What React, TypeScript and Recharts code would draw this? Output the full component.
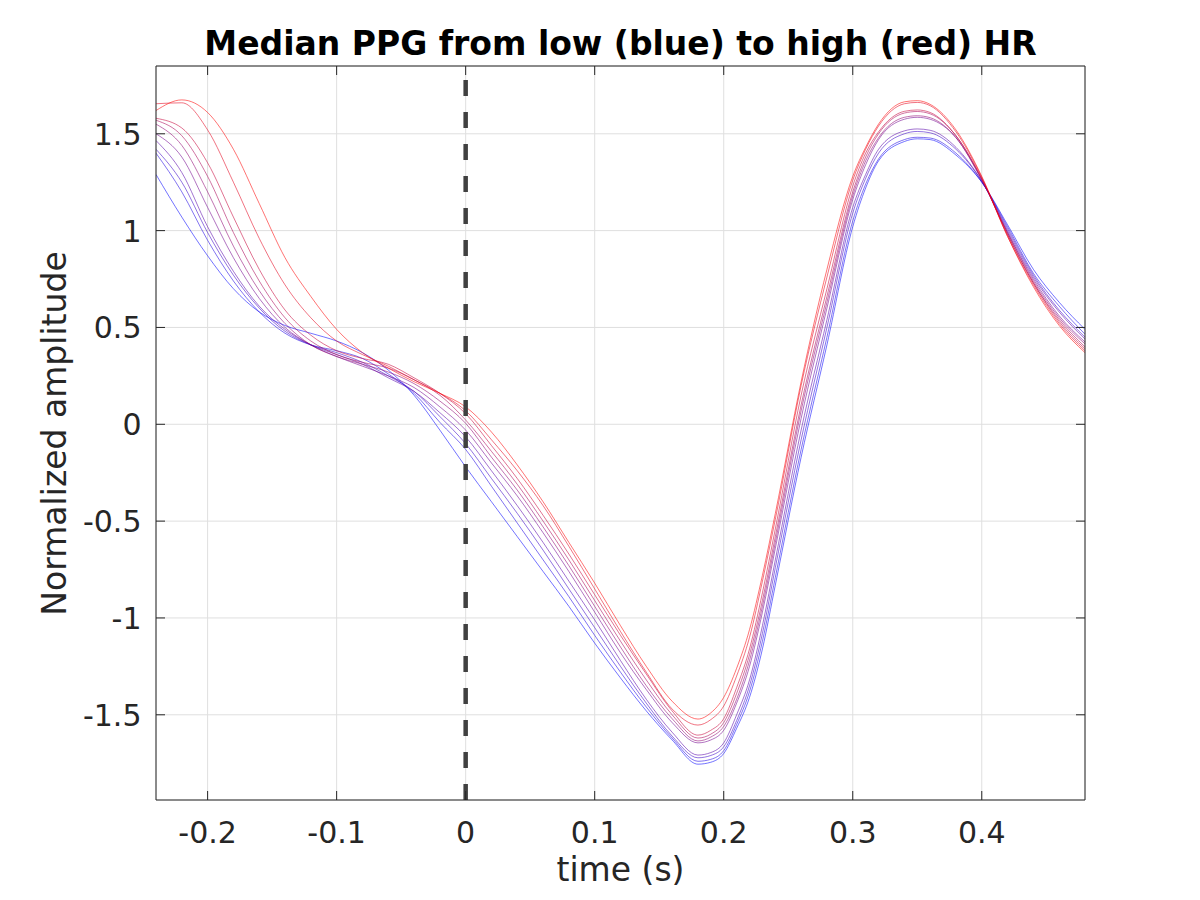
import React from 'react'
import { LineChart, Line, XAxis, YAxis, CartesianGrid, ReferenceLine } from 'recharts'

// time axis (s) and ten median PPG beats, ordered from low HR (blue) to high HR (red)
const TIMES = [
  -0.24, -0.22, -0.2, -0.18, -0.16, -0.14, -0.12, -0.1,
  -0.08, -0.06, -0.04, -0.02, 0,
  0.02, 0.04, 0.06, 0.08, 0.1, 0.12, 0.14, 0.16,
  0.18, 0.19, 0.2, 0.21, 0.22, 0.23, 0.24,
  0.26, 0.28, 0.3, 0.31, 0.32,
  0.34, 0.35, 0.36, 0.38, 0.4,
  0.42, 0.44, 0.46, 0.48,
]

const PPG_01 = [1.29, 1.07, 0.87, 0.7, 0.58, 0.51, 0.47, 0.43, 0.37, 0.28, 0.15, -0.03, -0.22, -0.4, -0.58, -0.76, -0.94, -1.13, -1.31, -1.48, -1.63, -1.755, -1.745, -1.7, -1.57, -1.41, -1.16, -0.83, -0.17, 0.41, 1.02, 1.22, 1.36, 1.46, 1.474, 1.47, 1.39, 1.25, 1.03, 0.8, 0.63, 0.49]
const PPG_02 = [1.4, 1.2, 0.95, 0.74, 0.58, 0.47, 0.41, 0.38, 0.34, 0.26, 0.16, 0.01, -0.13, -0.32, -0.51, -0.7, -0.89, -1.09, -1.28, -1.46, -1.62, -1.74, -1.73, -1.685, -1.55, -1.38, -1.12, -0.79, -0.13, 0.45, 1.05, 1.24, 1.37, 1.47, 1.482, 1.478, 1.4, 1.25, 1.02, 0.78, 0.61, 0.465]
const PPG_03 = [1.42, 1.25, 0.99, 0.77, 0.6, 0.48, 0.41, 0.37, 0.32, 0.25, 0.17, 0.04, -0.1, -0.28, -0.46, -0.65, -0.85, -1.05, -1.25, -1.44, -1.61, -1.722, -1.71, -1.665, -1.53, -1.35, -1.08, -0.74, -0.08, 0.5, 1.09, 1.27, 1.4, 1.5, 1.512, 1.505, 1.42, 1.255, 1.01, 0.77, 0.59, 0.45]
const PPG_04 = [1.465, 1.3, 1.02, 0.79, 0.61, 0.49, 0.41, 0.36, 0.31, 0.24, 0.17, 0.06, -0.065, -0.24, -0.42, -0.61, -0.81, -1.01, -1.22, -1.42, -1.59, -1.708, -1.695, -1.645, -1.5, -1.32, -1.04, -0.7, -0.03, 0.54, 1.12, 1.29, 1.42, 1.515, 1.525, 1.518, 1.43, 1.255, 1.0, 0.76, 0.58, 0.44]
const PPG_05 = [1.5, 1.38, 1.12, 0.86, 0.65, 0.5, 0.41, 0.35, 0.3, 0.25, 0.19, 0.09, -0.03, -0.2, -0.37, -0.56, -0.76, -0.97, -1.18, -1.37, -1.54, -1.645, -1.63, -1.58, -1.44, -1.25, -0.97, -0.64, 0.03, 0.6, 1.16, 1.34, 1.47, 1.575, 1.585, 1.575, 1.48, 1.26, 0.99, 0.75, 0.56, 0.425]
const PPG_06 = [1.55, 1.44, 1.2, 0.92, 0.69, 0.52, 0.41, 0.35, 0.31, 0.27, 0.21, 0.12, 0.005, -0.17, -0.34, -0.53, -0.73, -0.94, -1.15, -1.35, -1.52, -1.635, -1.615, -1.56, -1.42, -1.22, -0.94, -0.61, 0.07, 0.63, 1.18, 1.36, 1.48, 1.585, 1.593, 1.583, 1.48, 1.265, 0.99, 0.74, 0.55, 0.415]
const PPG_07 = [1.57, 1.49, 1.28, 0.99, 0.74, 0.55, 0.43, 0.36, 0.32, 0.29, 0.23, 0.15, 0.022, -0.14, -0.31, -0.5, -0.7, -0.91, -1.12, -1.32, -1.5, -1.62, -1.6, -1.54, -1.39, -1.19, -0.91, -0.58, 0.1, 0.66, 1.2, 1.38, 1.5, 1.607, 1.615, 1.603, 1.49, 1.265, 0.98, 0.73, 0.54, 0.4]
const PPG_08 = [1.58, 1.53, 1.35, 1.07, 0.8, 0.59, 0.46, 0.38, 0.34, 0.31, 0.24, 0.16, 0.055, -0.11, -0.28, -0.47, -0.67, -0.88, -1.09, -1.29, -1.48, -1.605, -1.58, -1.52, -1.36, -1.16, -0.87, -0.54, 0.15, 0.7, 1.23, 1.4, 1.51, 1.616, 1.623, 1.61, 1.49, 1.27, 0.98, 0.73, 0.53, 0.39]
const PPG_09 = [1.655, 1.66, 1.52, 1.25, 0.96, 0.72, 0.55, 0.43, 0.36, 0.3, 0.23, 0.16, 0.07, -0.08, -0.24, -0.42, -0.63, -0.85, -1.07, -1.28, -1.47, -1.553, -1.525, -1.455, -1.3, -1.1, -0.81, -0.49, 0.2, 0.76, 1.26, 1.42, 1.54, 1.655, 1.662, 1.645, 1.51, 1.275, 0.97, 0.72, 0.52, 0.38]
const PPG_10 = [1.62, 1.675, 1.61, 1.42, 1.14, 0.86, 0.66, 0.49, 0.37, 0.29, 0.22, 0.16, 0.09, -0.04, -0.21, -0.4, -0.61, -0.82, -1.04, -1.25, -1.43, -1.522, -1.49, -1.41, -1.26, -1.06, -0.78, -0.46, 0.22, 0.8, 1.28, 1.43, 1.55, 1.665, 1.671, 1.652, 1.52, 1.28, 0.97, 0.71, 0.51, 0.37]

const BEATS = [PPG_01, PPG_02, PPG_03, PPG_04, PPG_05, PPG_06, PPG_07, PPG_08, PPG_09, PPG_10]

const X_TICKS = [-0.2, -0.1, 0, 0.1, 0.2, 0.3, 0.4]
const Y_TICKS = [-1.5, -1, -0.5, 0, 0.5, 1, 1.5]
const X_DOMAIN = [-0.24, 0.48]
const Y_DOMAIN = [-1.94, 1.85]

const FONT = '"DejaVu Sans", sans-serif'
const AXIS = '#262626'
const TICK_LEN = 9

const rows = TIMES.map((t, k) => {
  const row: Record<string, number> = { t }
  BEATS.forEach((b, i) => { row[`b${i}`] = b[k] })
  return row
})

// blue -> red
function beatColor(i: number) {
  const r = Math.round((255 * i) / (BEATS.length - 1))
  return `rgb(${r},0,${255 - r})`
}

const fmt = (v: number) => String(v)

function BottomTick({ x, y, payload }: any) {
  return (
    <g>
      <line x1={x} x2={x} y1={y} y2={y - TICK_LEN} stroke={AXIS} />
      <text x={x} y={y + 43} textAnchor="middle" fontSize={30} fill={AXIS} fontFamily={FONT}>
        {fmt(payload.value)}
      </text>
    </g>
  )
}

function TopTick({ x, y }: any) {
  return <line x1={x} x2={x} y1={y} y2={y + TICK_LEN} stroke={AXIS} />
}

function LeftTick({ x, y, payload }: any) {
  return (
    <g>
      <line x1={x} x2={x + TICK_LEN} y1={y} y2={y} stroke={AXIS} />
      <text x={x - 14.5} y={y + 11} textAnchor="end" fontSize={30} fill={AXIS} fontFamily={FONT}>
        {fmt(payload.value)}
      </text>
    </g>
  )
}

function RightTick({ x, y }: any) {
  return <line x1={x} x2={x - TICK_LEN} y1={y} y2={y} stroke={AXIS} />
}

export default function App() {
  return (
    <div style={{ position: 'relative', width: 1200, height: 900, background: '#fff' }}>
      <style>{'body{margin:0}'}</style>
      <LineChart width={1200} height={900} data={rows} margin={{ top: 0, right: 0, bottom: 0, left: 0 }}>
        <CartesianGrid stroke="#dfdfdf" strokeWidth={1} />
        <XAxis
          dataKey="t" type="number" domain={X_DOMAIN} ticks={X_TICKS} allowDataOverflow
          height={100} interval={0} tickSize={0} tickMargin={0} tickLine={false}
          axisLine={{ stroke: AXIS }} tick={(p: any) => <BottomTick {...p} />}
        />
        <XAxis
          xAxisId="top" orientation="top" dataKey="t" type="number" domain={X_DOMAIN} ticks={X_TICKS}
          allowDataOverflow height={66} interval={0} tickSize={0} tickMargin={0} tickLine={false}
          axisLine={{ stroke: AXIS }} tick={(p: any) => <TopTick {...p} />}
        />
        <YAxis
          type="number" domain={Y_DOMAIN} ticks={Y_TICKS} allowDataOverflow width={156}
          interval={0} tickSize={0} tickMargin={0} tickLine={false}
          axisLine={{ stroke: AXIS }} tick={(p: any) => <LeftTick {...p} />}
        />
        <YAxis
          yAxisId="right" orientation="right" type="number" domain={Y_DOMAIN} ticks={Y_TICKS}
          allowDataOverflow width={115} interval={0} tickSize={0} tickMargin={0} tickLine={false}
          axisLine={{ stroke: AXIS }} tick={(p: any) => <RightTick {...p} />}
        />
        {BEATS.map((_, i) => (
          <Line
            key={i}
            dataKey={`b${i}`}
            type="monotone"
            stroke={beatColor(i)}
            strokeOpacity={0.55}
            strokeWidth={1}
            dot={false}
            activeDot={false}
            isAnimationActive={false}
          />
        ))}
        <ReferenceLine x={0} stroke="#404040" strokeWidth={4.5} strokeDasharray="16 16" />
      </LineChart>
      <svg width={1200} height={900} style={{ position: 'absolute', left: 0, top: 0, pointerEvents: 'none' }}>
        <text x={620.5} y={55} textAnchor="middle" fontSize={33} fontWeight="bold" fill="#000" fontFamily={FONT}>
          Median PPG from low (blue) to high (red) HR
        </text>
        <text x={620.5} y={881} textAnchor="middle" fontSize={33} fill={AXIS} fontFamily={FONT}>
          time (s)
        </text>
        <text transform="translate(66,433.5) rotate(-90)" textAnchor="middle" fontSize={33} fill={AXIS} fontFamily={FONT}>
          Normalized amplitude
        </text>
      </svg>
    </div>
  )
}
